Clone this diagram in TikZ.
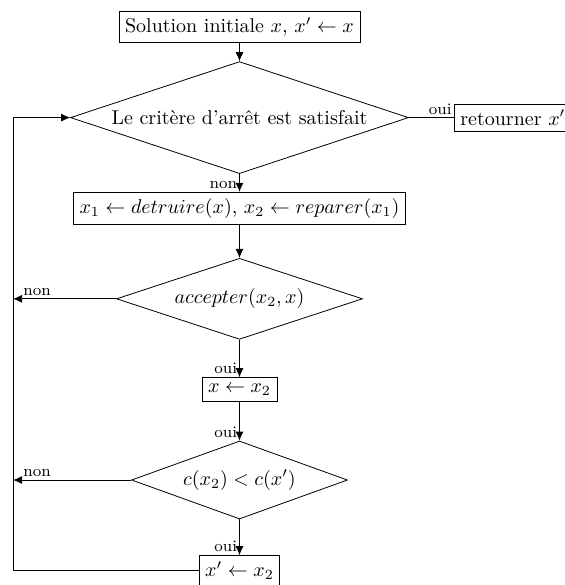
\documentclass[tikz,border=0pt]{standalone}
\usepackage{amsmath,amssymb}
\usetikzlibrary{positioning,shapes.geometric,arrows.meta}

\tikzset{
  bloc/.style={draw, rectangle, inner sep=3pt},
  test/.style={draw, diamond, inner sep=0pt, aspect=3},
  lbl/.style={font=\footnotesize, inner sep=1pt, yshift=0.5pt},
}

\begin{document}
\begin{tikzpicture}[>={Latex[length=4.5pt,width=4pt]}, node distance=45.3pt, on grid]
    \useasboundingbox (-119.75pt,13.5pt) rectangle (162.75pt,-279pt);
    \node[bloc] (init) {Solution initiale $x$, $x' \leftarrow x$};
    \node[test, below=of init, minimum width=169pt, minimum height=56pt] (arret) {Le critère d'arrêt est satisfait};
    \node[bloc, below=of arret] (dr) {$x_1 \leftarrow detruire(x)$, $x_2 \leftarrow reparer(x_1)$};
    \node[test, below=of dr, minimum width=123pt, minimum height=40.5pt] (acc) {$accepter(x_2, x)$};
    \node[bloc, below=of acc] (maj) {$x \leftarrow x_2$};
    \node[test, below=of maj, minimum width=108pt, minimum height=39pt] (cout) {$c(x_2) < c(x')$};
    \node[bloc, below=of cout] (best) {$x' \leftarrow x_2$};
    \node[bloc, anchor=west] (ret) at ([xshift=22.5pt]arret.east) {retourner $x'$};
    \coordinate (gauche) at ([xshift=-28.5pt]arret.west);

    \draw[->] (init) -- (arret);
    \draw (arret) -- (ret) node[lbl, pos=1, anchor=south east] {oui};
    \draw[->] (arret) -- (dr) node[lbl, pos=1, anchor=south east] {non};
    \draw[->] (dr) -- (acc);
    \draw[->] (acc) -- (maj) node[lbl, pos=1, anchor=south east] {oui};
    \draw[->] (acc.west) -- (acc.west -| gauche) node[lbl, pos=1, anchor=south west, xshift=4pt] {non};
    \draw[->] (maj) -- (cout) node[lbl, pos=1, anchor=south east] {oui};
    \draw[->] (cout.west) -- (cout.west -| gauche) node[lbl, pos=1, anchor=south west, xshift=4pt] {non};
    \draw[->] (cout) -- (best) node[lbl, pos=1, anchor=south east] {oui};
    \draw[->] (best.west) -| (gauche) -- (arret.west);
\end{tikzpicture}
\end{document}
